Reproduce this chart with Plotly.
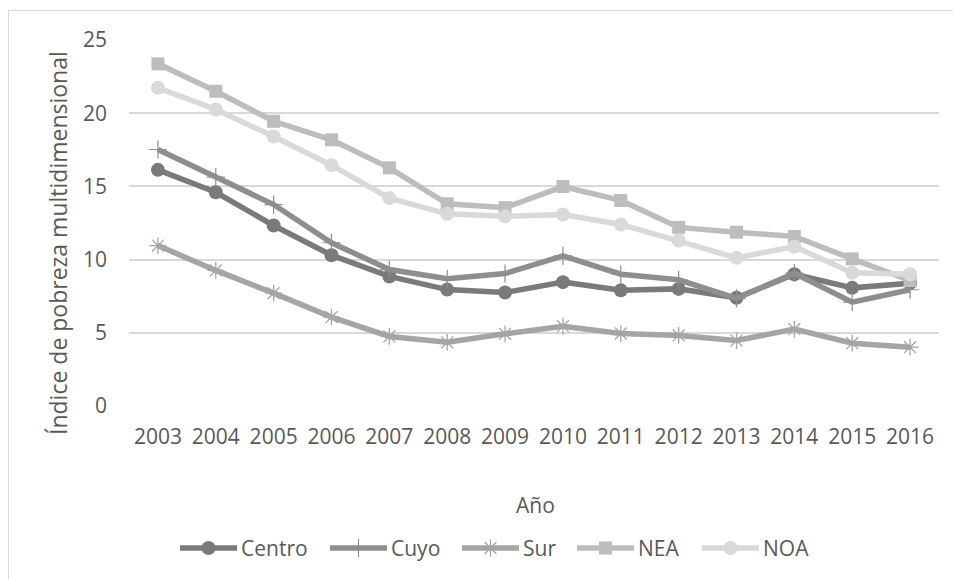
import plotly.graph_objects as go

# Índice de pobreza multidimensional por región, 2003-2016
anios = [2003, 2004, 2005, 2006, 2007, 2008, 2009, 2010, 2011, 2012, 2013, 2014, 2015, 2016]
centro = [16.13, 14.6, 12.33, 10.3, 8.85, 7.95, 7.75, 8.46, 7.9, 8.0, 7.39, 9.0, 8.07, 8.39]
cuyo = [17.52, 15.63, 13.76, 11.15, 9.32, 8.69, 9.05, 10.25, 9.0, 8.62, 7.35, 9.07, 7.09, 7.94]
sur = [10.96, 9.26, 7.71, 6.07, 4.75, 4.35, 4.93, 5.45, 4.95, 4.82, 4.47, 5.25, 4.29, 4.02]
nea = [23.37, 21.5, 19.45, 18.18, 16.27, 13.81, 13.55, 14.99, 14.04, 12.2, 11.87, 11.58, 10.05, 8.57]
noa = [21.73, 20.25, 18.41, 16.45, 14.2, 13.13, 12.96, 13.08, 12.4, 11.3, 10.12, 10.89, 9.1, 9.0]

series = [
    ("Centro", centro, "#7a7a7a", dict(symbol="circle", size=14)),
    ("Cuyo", cuyo, "#8e8e8e", dict(symbol="cross-thin", size=13, line=dict(width=1.2, color="#8e8e8e"))),
    ("Sur", sur, "#a5a5a5", dict(symbol="asterisk-open", size=14, line=dict(width=1.3, color="#a5a5a5"))),
    ("NEA", nea, "#bdbdbd", dict(symbol="square", size=13)),
    ("NOA", noa, "#d9d9d9", dict(symbol="circle", size=14)),
]

W, H = 953, 579
# plot area in pixels
PX0, PX1, PY0, PY1 = 129, 939, 40, 406
FONT = "Open Sans"
TXT = "#595959"
LW = 5.5

# legend layout (pixel columns where each key starts, row position)
LEG_X = [180, 330, 462, 577, 702]
LEG_Y = 548
LEG_LEN = 57

fig = go.Figure()
for name, vals, color, marker in series:
    fig.add_trace(go.Scatter(
        x=anios, y=vals, name=name, mode="lines+markers",
        line=dict(color=color, width=LW),
        marker=dict(color=color, **marker),
        showlegend=False,
    ))

# legend keys drawn on a full-page pixel axis
annotations = []
for (name, vals, color, marker), x0 in zip(series, LEG_X):
    fig.add_trace(go.Scatter(
        x=[x0, x0 + LEG_LEN], y=[LEG_Y, LEG_Y], mode="lines", xaxis="x2", yaxis="y2",
        line=dict(color=color, width=LW), showlegend=False, hoverinfo="skip",
    ))
    fig.add_trace(go.Scatter(
        x=[x0 + LEG_LEN / 2], y=[LEG_Y], mode="markers", xaxis="x2", yaxis="y2",
        marker=dict(color=color, **marker), showlegend=False, hoverinfo="skip",
    ))
    annotations.append(dict(text=name, xref="x2", yref="y2",
                            x=x0 + LEG_LEN + 2, y=LEG_Y, xanchor="left",
                            yanchor="middle", showarrow=False,
                            font=dict(family=FONT, size=21, color=TXT)))

annotations += [
    dict(text="Índice de pobreza multidimensional", xref="x2", yref="y2",
         x=58, y=243, xanchor="center", yanchor="middle", textangle=-90,
         showarrow=False, font=dict(family=FONT, size=23, color=TXT)),
    dict(text="Año", xref="x2", yref="y2", x=535, y=505,
         xanchor="center", yanchor="middle", showarrow=False,
         font=dict(family=FONT, size=21, color=TXT)),
]

# chart border
shapes = [dict(type="rect", xref="x2", yref="y2",
               x0=8.5, x1=W + 20, y0=10.5, y1=H + 20,
               line=dict(color="#d9d9d9", width=1), fillcolor="rgba(0,0,0,0)",
               layer="below")]

fig.update_layout(
    width=W, height=H,
    margin=dict(l=0, r=0, t=0, b=0, pad=0, autoexpand=False),
    paper_bgcolor="white", plot_bgcolor="rgba(0,0,0,0)",
    font=dict(family=FONT, size=20, color=TXT),
    showlegend=False,
    xaxis=dict(
        domain=[PX0 / W, PX1 / W], anchor="y", automargin=False,
        range=[2002.5, 2016.5], tickmode="array", tickvals=anios,
        ticktext=[str(a) for a in anios], showgrid=False, zeroline=False,
        showline=False, ticks="", ticklabelstandoff=16,
        tickfont=dict(family=FONT, size=21, color=TXT),
    ),
    yaxis=dict(
        domain=[(H - PY1) / H, (H - PY0) / H], anchor="x", automargin=False,
        range=[0, 25], tickvals=[0, 5, 10, 15, 20, 25], showgrid=True,
        gridcolor="#d9d9d9", gridwidth=1.5, zeroline=False, showline=False,
        ticks="", ticklabelstandoff=21,
        tickfont=dict(family=FONT, size=21, color=TXT),
    ),
    xaxis2=dict(domain=[0, 1], anchor="y2", range=[0, W], visible=False,
                fixedrange=True, automargin=False),
    yaxis2=dict(domain=[0, 1], anchor="x2", range=[H, 0], visible=False,
                fixedrange=True, automargin=False),
    annotations=annotations,
    shapes=shapes,
)

fig.write_html("out.html")
